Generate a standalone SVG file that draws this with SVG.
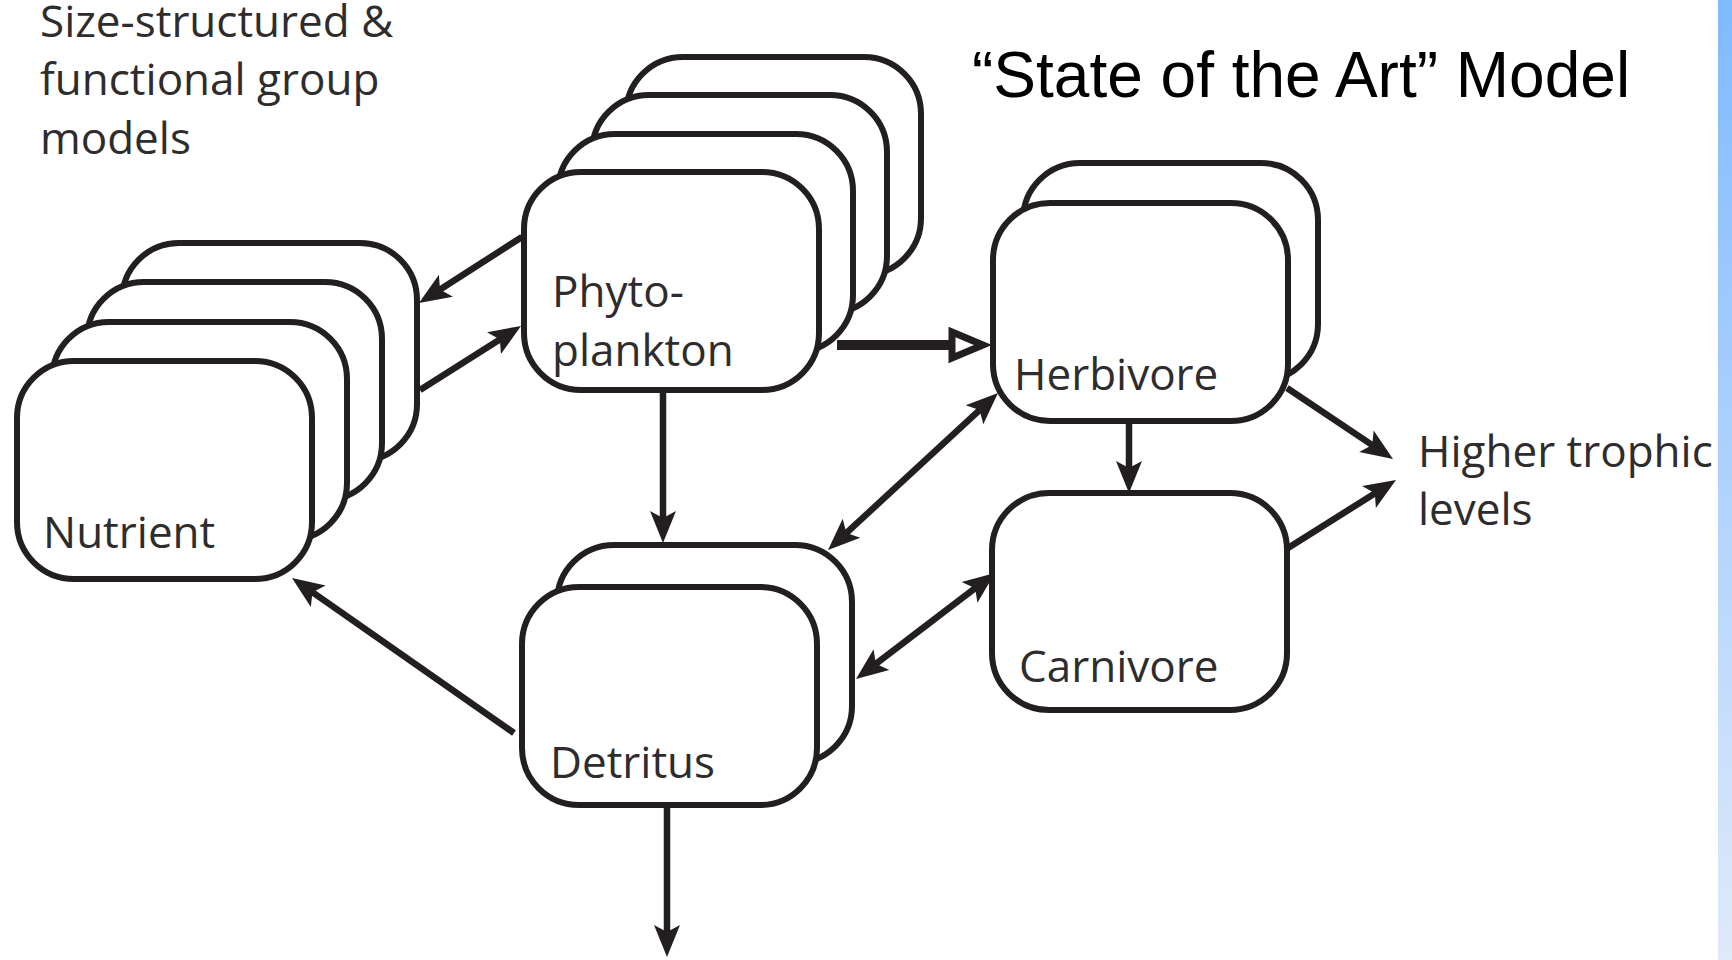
<svg xmlns="http://www.w3.org/2000/svg" width="1732" height="960" viewBox="0 0 1732 960">
<style>
.box{fill:#fff;stroke:#231f20;stroke-width:6}
.lbl{font-family:"Open Sans","Liberation Sans",sans-serif;font-size:44px;fill:#2e2c2d}
.title{font-family:"Liberation Sans",Arial,sans-serif;font-size:64px;fill:#000}
.ln{fill:none;stroke:#231f20;stroke-width:6.5}
</style>
<defs>
<linearGradient id="bar" x1="0" y1="0" x2="0" y2="1">
<stop offset="0" stop-color="#7fbaff"/>
<stop offset="1" stop-color="#dfeafa"/>
</linearGradient>
<marker id="ah" markerUnits="userSpaceOnUse" markerWidth="44" markerHeight="34" refX="12" refY="17" orient="auto-start-reverse" overflow="visible">
<path d="M0,4 L32,17 L0,30 L7,17 Z" fill="#231f20"/>
</marker>
</defs>
<rect x="1718" y="0" width="14" height="960" fill="url(#bar)"/>
<text class="title" x="972" y="97">“State of the Art” Model</text>
<g id="heading">
<text class="lbl" x="40" y="37">Size-structured &amp;</text>
<text class="lbl" x="40" y="95">functional group</text>
<text class="lbl" x="40" y="154">models</text>
</g>
<g id="nutrient">
<rect class="box" x="122" y="243" width="295" height="218" rx="57"/>
<rect class="box" x="87" y="282" width="295" height="218" rx="57"/>
<rect class="box" x="52" y="322" width="295" height="218" rx="57"/>
<rect class="box" x="17" y="361" width="295" height="218" rx="57"/>
<text class="lbl" x="43" y="548">Nutrient</text>
</g>
<g id="phytoplankton">
<rect class="box" x="626" y="57" width="295" height="218" rx="57"/>
<rect class="box" x="592" y="95" width="295" height="218" rx="57"/>
<rect class="box" x="558" y="134" width="295" height="218" rx="57"/>
<rect class="box" x="524" y="172" width="295" height="218" rx="57"/>
<text class="lbl" x="552" y="307">Phyto-</text>
<text class="lbl" x="552" y="366">plankton</text>
</g>
<g id="herbivore">
<rect class="box" x="1023" y="163" width="295" height="218" rx="57"/>
<rect class="box" x="993" y="203" width="295" height="218" rx="57"/>
<text class="lbl" x="1014" y="390">Herbivore</text>
</g>
<g id="carnivore">
<rect class="box" x="992" y="493" width="295" height="217" rx="57"/>
<text class="lbl" x="1019" y="682">Carnivore</text>
</g>
<g id="detritus">
<rect class="box" x="557" y="545" width="295" height="218" rx="57"/>
<rect class="box" x="522" y="587" width="295" height="218" rx="57"/>
<text class="lbl" x="550" y="778">Detritus</text>
</g>
<g id="higher-trophic">
<text class="lbl" x="1418" y="467">Higher trophic</text>
<text class="lbl" x="1418" y="525">levels</text>
</g>
<g id="connectors">
<line class="ln" x1="522" y1="237" x2="435.8" y2="292.2" marker-end="url(#ah)"/>
<line class="ln" x1="420" y1="390" x2="504.1" y2="336.7" marker-end="url(#ah)"/>
<line x1="837" y1="345" x2="952" y2="345" stroke="#231f20" stroke-width="10"/>
<polygon points="952,332 983,345 952,358" fill="#fff" stroke="#231f20" stroke-width="7" stroke-linejoin="miter"/>
<line class="ln" x1="842.7" y1="536.4" x2="983.3" y2="406.6" marker-start="url(#ah)" marker-end="url(#ah)"/>
<line class="ln" x1="871.9" y1="666.9" x2="979.1" y2="585.1" marker-start="url(#ah)" marker-end="url(#ah)"/>
<line class="ln" x1="514" y1="733" x2="308.4" y2="589.4" marker-end="url(#ah)"/>
<line class="ln" x1="663" y1="392" x2="663" y2="523" stroke-width="7.5" marker-end="url(#ah)"/>
<line class="ln" x1="1129" y1="422" x2="1129" y2="473" stroke-width="7.5" marker-end="url(#ah)"/>
<line class="ln" x1="1287" y1="388" x2="1376.4" y2="447.9" marker-end="url(#ah)"/>
<line class="ln" x1="1288" y1="548" x2="1379.1" y2="490.7" marker-end="url(#ah)"/>
<line class="ln" x1="667" y1="806" x2="667" y2="937" stroke-width="7.5" marker-end="url(#ah)"/>
</g>
</svg>
